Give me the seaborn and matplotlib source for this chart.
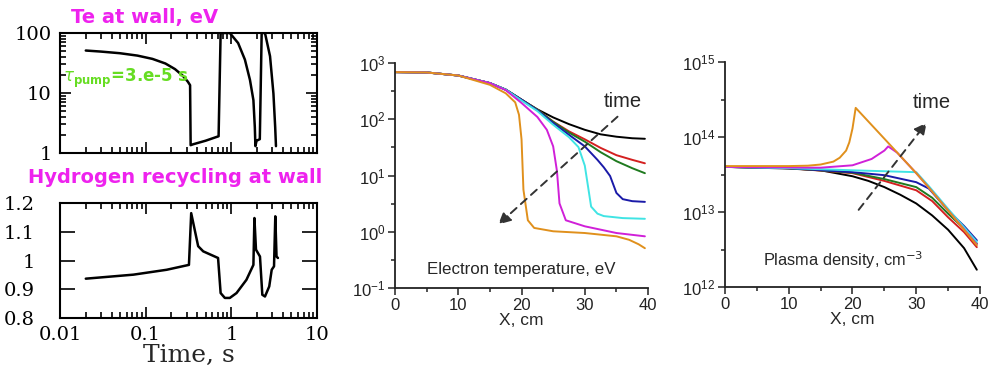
import numpy as np
import pandas as pd
import matplotlib
matplotlib.use("Agg")
import matplotlib.pyplot as plt
import matplotlib.ticker as mticker
import seaborn as sns

sns.set_style("ticks")
plt.rcParams["font.family"] = ["Liberation Sans", "DejaVu Sans"]

# ---- left panels: time traces at wall ----
t_te = [0.02, 0.03, 0.05, 0.08, 0.12, 0.17, 0.22, 0.27, 0.31, 0.33, 0.335, 0.36, 0.5, 0.71,
        0.75, 0.96, 1.2, 1.44, 1.65, 1.81, 1.88, 1.91, 1.97, 2.15, 2.26, 2.47, 2.83, 3.1, 3.25, 3.32]
te_wall = [51, 49, 46, 42, 37, 31, 25, 19.5, 15.5, 13.5, 1.35, 1.4, 1.6, 1.9,
           100, 100, 68, 36, 16.5, 7.6, 2.7, 1.3, 1.6, 1.7, 100, 100, 41, 9.8, 2.7, 1.3]

t_rec = [0.02, 0.072, 0.176, 0.32, 0.34, 0.41, 0.47, 0.70, 0.75, 0.84, 0.96, 1.15,
         1.5, 1.81, 1.86, 1.94, 2.16, 2.3, 2.47, 2.77, 2.96, 3.15, 3.26, 3.37, 3.5]
recycling = [0.937, 0.951, 0.968, 0.985, 1.165, 1.05, 1.032, 1.009, 0.887, 0.87, 0.87, 0.887,
             0.933, 0.985, 1.148, 1.038, 1.014, 0.881, 0.875, 0.91, 0.968, 0.98, 1.154, 1.014, 1.009]

time_ticks = [0.01, 0.1, 1, 10]
time_labels = ["0.01", "0.1", "1", "10"]
te_ticks = [1, 10, 100]
te_labels = ["1", "10", "100"]
rec_ticks = [0.8, 0.9, 1.0, 1.1, 1.2]
rec_labels = ["0.8", "0.9", "1", "1.1", "1.2"]

# ---- electron temperature profiles (eV) vs X (cm) ----
series_names = ["black", "red", "green", "blue", "cyan", "magenta", "orange"]
series_colors = ["#000000", "#d42020", "#1f7a1f", "#1a1aa8", "#40e4e4", "#d020d8", "#e0901c"]

te_x = {
    "black":   [0, 5, 10, 15, 17.5, 20, 22.5, 25, 27.5, 30, 32.5, 35, 37.5, 39.5],
    "red":     [0, 5, 10, 15, 17.5, 20, 22.5, 25, 27.5, 30, 32.5, 35, 37.5, 39.5],
    "green":   [0, 5, 10, 15, 17.5, 20, 22.5, 25, 27.5, 30, 32.5, 35, 37.5, 39.5],
    "blue":    [0, 5, 10, 15, 17.5, 20, 22.5, 25, 27.5, 30, 32, 33, 34, 35, 36, 37.5, 39.5],
    "cyan":    [0, 5, 10, 15, 17.5, 20, 22.5, 25, 27.5, 29, 30, 30.5, 31, 32, 33, 36, 39.5],
    "magenta": [0, 5, 10, 15, 17.5, 20, 22.5, 24, 25, 25.6, 26, 27, 30, 35, 39.5],
    "orange":  [0, 5, 10, 15, 17.5, 19, 19.6, 20, 20.3, 21, 22, 25, 30, 35, 37, 38.5, 39.5],
}
te_y = {
    "black":   [690, 680, 600, 440, 337, 223, 150, 108, 82, 65, 54, 49, 46, 45],
    "red":     [690, 680, 600, 440, 337, 223, 148, 91, 61, 44, 31, 23, 19, 16.5],
    "green":   [690, 680, 600, 440, 337, 223, 148, 90, 58, 40, 26, 18, 13.5, 11],
    "blue":    [690, 680, 600, 440, 337, 223, 145, 86, 53, 33, 19, 14, 9.8, 4.9, 3.8, 3.5, 3.4],
    "cyan":    [690, 680, 600, 440, 337, 215, 140, 80, 48, 32, 15, 6.5, 2.8, 2.1, 1.9, 1.75, 1.7],
    "magenta": [690, 680, 600, 440, 330, 195, 110, 65, 33, 12, 3.2, 1.6, 1.25, 0.95, 0.83],
    "orange":  [690, 680, 600, 410, 290, 200, 120, 44, 5.6, 1.6, 1.17, 1.02, 0.95, 0.83, 0.72, 0.6, 0.51],
}

# ---- plasma density profiles (cm^-3) vs X (cm) ----
ne_x = {
    "black":   [0, 10, 15, 20, 22.5, 25, 27.5, 30, 32.5, 35, 37.5, 39.5],
    "red":     [0, 10, 20, 25, 30, 32.5, 35, 37.5, 39.5],
    "green":   [0, 10, 20, 25, 30, 32.5, 35, 37.5, 39.5],
    "blue":    [0, 10, 20, 25, 30, 32, 35, 37.5, 39.5],
    "cyan":    [0, 10, 20, 30, 32, 35, 39.5],
    "magenta": [0, 15, 20, 23, 25, 25.6, 27, 30, 32, 35, 39.5],
    "orange":  [0, 10, 13, 15, 17, 18, 19, 19.5, 20, 20.5, 25, 30, 32, 35, 39.5],
}
ne_y = {
    "black":   [4.0e13, 3.8e13, 3.6e13, 3.0e13, 2.6e13, 2.15e13, 1.7e13, 1.3e13, 9.0e12, 5.8e12, 3.3e12, 1.7e12],
    "red":     [4.0e13, 3.85e13, 3.3e13, 2.6e13, 1.95e13, 1.4e13, 8.5e12, 5.4e12, 3.4e12],
    "green":   [4.0e13, 3.85e13, 3.35e13, 2.75e13, 2.15e13, 1.55e13, 9.5e12, 6.0e12, 3.8e12],
    "blue":    [4.0e13, 3.85e13, 3.4e13, 3.1e13, 2.5e13, 2.05e13, 1.05e13, 6.5e12, 4.2e12],
    "cyan":    [4.0e13, 3.85e13, 3.6e13, 3.4e13, 2.2e13, 1.1e13, 4.0e12],
    "magenta": [4.0e13, 3.9e13, 4.2e13, 5.1e13, 6.6e13, 7.5e13, 6.2e13, 3.3e13, 2.1e13, 1.05e13, 3.7e12],
    "orange":  [4.1e13, 4.1e13, 4.15e13, 4.3e13, 4.7e13, 5.3e13, 6.6e13, 8.5e13, 1.3e14, 2.45e14,
                9.5e13, 3.3e13, 2.1e13, 1.05e13, 3.6e12],
}

magenta = "#ee22ee"
fig = plt.figure(figsize=(9.9, 3.8), dpi=100)


def style_left(ax):
    for s in ax.spines.values():
        s.set_linewidth(1.5)
        s.set_color("black")
    ax.tick_params(axis="both", which="both", direction="in", top=True, right=True,
                   bottom=True, left=True, width=1.2, color="black", labelcolor="black")
    ax.tick_params(axis="both", which="major", length=8, labelsize=14)
    ax.tick_params(axis="both", which="minor", length=4)
    ax.tick_params(axis="x", which="major", pad=6)


# left panels are built with a serif font set through rc, so tick labels need no per-label font change
with plt.rc_context({"font.family": ["DejaVu Serif"]}):
    ax1 = fig.add_axes([0.0606, 0.5974, 0.2596, 0.3158])
    ax2 = fig.add_axes([0.0606, 0.163, 0.2596, 0.3026])

    # Te at wall
    sns.lineplot(x=t_te, y=te_wall, ax=ax1, color="black", lw=1.8, sort=False, estimator=None)
    ax1.set_xscale("log")
    ax1.set_yscale("log")
    ax1.set_xlim(0.01, 10)
    ax1.set_ylim(1, 100)
    ax1.set_xticks(time_ticks)
    ax1.set_xticklabels([])
    ax1.xaxis.set_minor_formatter(mticker.NullFormatter())
    ax1.set_yticks(te_ticks)
    ax1.set_yticklabels(te_labels)
    ax1.yaxis.set_minor_formatter(mticker.NullFormatter())

    # Hydrogen recycling
    sns.lineplot(x=t_rec, y=recycling, ax=ax2, color="black", lw=1.8, sort=False, estimator=None)
    ax2.set_xscale("log")
    ax2.set_xlim(0.01, 10)
    ax2.set_ylim(0.8, 1.2)
    ax2.set_yticks(rec_ticks)
    ax2.set_yticklabels(rec_labels)
    ax2.set_xticks(time_ticks)
    ax2.set_xticklabels(time_labels)
    ax2.xaxis.set_minor_formatter(mticker.NullFormatter())
    ax2.set_xlabel("Time, s", fontsize=18, labelpad=0)

    style_left(ax1)
    style_left(ax2)
    ax1.tick_params(axis="y", which="major", pad=6)
    ax2.tick_params(axis="y", which="major", length=11, pad=18)

ax1.text(0.01, 0.62, r"$\tau_{\mathbf{pump}}$=3.e-5 s", transform=ax1.transAxes, va="center",
         color="#66dd22", fontsize=12, fontweight="bold", family=["DejaVu Sans"])
fig.text(0.146, 0.955, "Te at wall, eV", color=magenta, fontsize=14, fontweight="bold",
         ha="center", va="center", family=["DejaVu Sans"])
fig.text(0.177, 0.532, "Hydrogen recycling at wall", color=magenta, fontsize=14, fontweight="bold",
         ha="center", va="center", family=["DejaVu Sans"])

# profile panels
ax3 = fig.add_axes([0.399, 0.2421, 0.2556, 0.592])
ax4 = fig.add_axes([0.7323, 0.2447, 0.2576, 0.592])
for name, col in zip(series_names, series_colors):
    sns.lineplot(x=te_x[name], y=te_y[name], ax=ax3, color=col, lw=1.4, estimator=None)
    sns.lineplot(x=ne_x[name], y=ne_y[name], ax=ax4, color=col, lw=1.4, estimator=None)

ax3.set_yscale("log")
ax3.set_ylim(0.1, 1000)
ax4.set_yscale("log")
ax4.set_ylim(1e12, 1e15)
for ax, lo, hi in ((ax3, -1, 3), (ax4, 12, 15)):
    ax.set_xlim(0, 40)
    ax.set_xticks([0, 10, 20, 30, 40])
    ax.xaxis.set_minor_locator(mticker.FixedLocator([5, 15, 25, 35]))
    ax.set_yticks([10.0 ** k for k in range(lo, hi + 1)])
    ax.yaxis.set_minor_locator(mticker.FixedLocator([10.0 ** (k + 0.5) for k in range(lo, hi)]))
    ax.yaxis.set_minor_formatter(mticker.NullFormatter())
    ax.spines["top"].set_visible(False)
    ax.spines["right"].set_visible(False)
    for s in ("left", "bottom"):
        ax.spines[s].set_linewidth(1.3)
        ax.spines[s].set_color("#222222")
    ax.tick_params(which="both", direction="out", left=True, bottom=True, colors="#222222", width=1.1)
    ax.tick_params(which="major", length=5, labelsize=12, pad=2)
    ax.tick_params(which="minor", length=3)
    ax.set_xlabel("X, cm", fontsize=12.5, labelpad=0)

# annotations
arrow = dict(arrowstyle="-|>", linestyle=(0, (4, 3)), color="#333333", lw=1.4, mutation_scale=18)
ax3.annotate("", xy=(16.0, 1.25), xytext=(35.5, 120), arrowprops=arrow)
ax3.text(36, 210, "time", fontsize=14.5, ha="center", va="center")
ax3.text(20, 0.21, "Electron temperature, eV", fontsize=12.2, ha="center", va="center")

ax4.annotate("", xy=(31.9, 1.66e14), xytext=(20.7, 1.0e13), arrowprops=arrow)
ax4.text(32.5, 2.9e14, "time", fontsize=14.5, ha="center", va="center")
ax4.text(18.6, 2.3e12, "Plasma density, cm$^{-3}$", fontsize=11.8, ha="center", va="center")

fig.savefig("out.png", dpi=100, facecolor="white")
